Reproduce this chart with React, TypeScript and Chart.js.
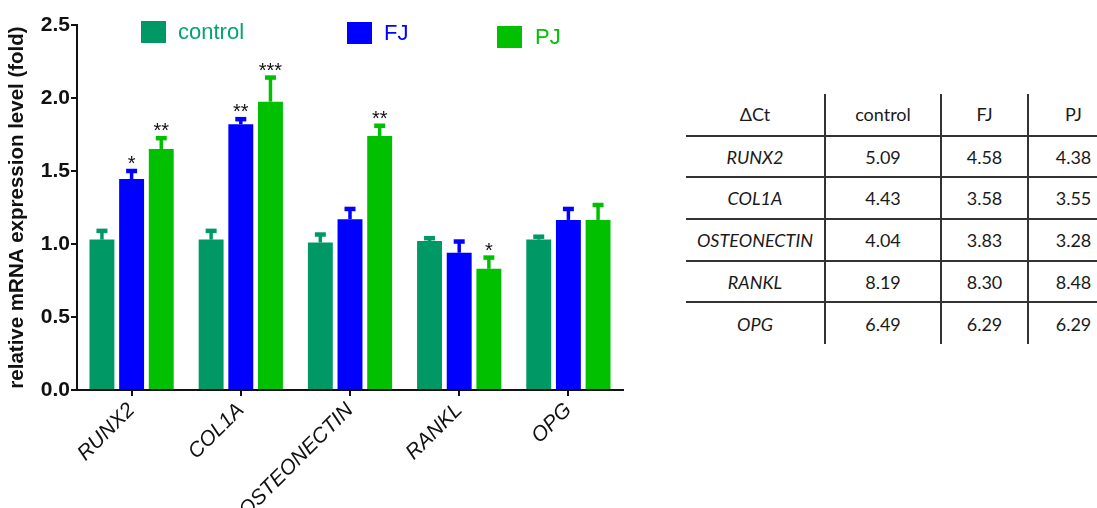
import React, { useEffect, useRef } from "react";
import { Chart, registerables } from "chart.js";

Chart.register(...registerables);

// ---------- data ----------
const genes = ["RUNX2", "COL1A", "OSTEONECTIN", "RANKL", "OPG"];
const seriesNames = ["control", "FJ", "PJ"];
const controlValues = [1.03, 1.03, 1.01, 1.02, 1.03];
const fjValues = [1.445, 1.82, 1.17, 0.94, 1.165];
const pjValues = [1.65, 1.975, 1.74, 0.83, 1.165];
const controlErrTop = [1.09, 1.09, 1.065, 1.04, 1.05];
const fjErrTop = [1.50, 1.855, 1.24, 1.017, 1.24];
const pjErrTop = [1.725, 2.14, 1.81, 0.907, 1.267];
const controlStars = ["", "", "", "", ""];
const fjStars = ["*", "**", "", "", ""];
const pjStars = ["**", "***", "**", "*", ""];
const yTicks = [0, 0.5, 1.0, 1.5, 2.0, 2.5];

const tableHeader = ["\u0394Ct", "control", "FJ", "PJ"];
const tableGenes = ["RUNX2", "COL1A", "OSTEONECTIN", "RANKL", "OPG"];
const tableControl = ["5.09", "4.43", "4.04", "8.19", "6.49"];
const tableFJ = ["4.58", "3.58", "3.83", "8.30", "6.29"];
const tablePJ = ["4.38", "3.55", "3.28", "8.48", "6.29"];

// ---------- styles ----------
const barColors = ["#009966", "#0000ff", "#00c000"];
const legendTextColors = ["#00a66c", "#0000ff", "#00c000"];
const FONT = "'Liberation Sans', Arial, sans-serif";
const legendLayout = [
  { x: 141, y: 21, text: 178, mid: 33 },
  { x: 347, y: 22, text: 384, mid: 34 },
  { x: 497, y: 26, text: 535, mid: 37.5 },
];

const errBars = [controlErrTop, fjErrTop, pjErrTop];
const stars = [controlStars, fjStars, pjStars];

const extrasPlugin = {
  id: "extras",
  afterDatasetsDraw(chart: any) {
    const ctx = chart.ctx;
    const yScale = chart.scales.y;
    chart.data.datasets.forEach((ds: any, i: number) => {
      const meta = chart.getDatasetMeta(i);
      meta.data.forEach((el: any, j: number) => {
        const x = el.x;
        const yTop = el.y;
        const yCap = yScale.getPixelForValue(errBars[i][j]);
        ctx.save();
        ctx.strokeStyle = barColors[i];
        ctx.lineWidth = 3.5;
        ctx.beginPath();
        ctx.moveTo(x, yTop);
        ctx.lineTo(x, yCap);
        ctx.stroke();
        ctx.lineWidth = 4.5;
        ctx.beginPath();
        ctx.moveTo(x - 5.5, yCap);
        ctx.lineTo(x + 5.5, yCap);
        ctx.stroke();
        const s = stars[i][j];
        if (s) {
          ctx.fillStyle = "#111";
          ctx.font = `20px ${FONT}`;
          ctx.textAlign = "center";
          ctx.textBaseline = "alphabetic";
          ctx.fillText(s, x, yCap - 1);
        }
        ctx.restore();
      });
    });
  },
  afterDraw(chart: any) {
    const ctx = chart.ctx;
    chart.data.datasets.forEach((ds: any, i: number) => {
      const L = legendLayout[i];
      ctx.save();
      ctx.fillStyle = barColors[i];
      ctx.fillRect(L.x, L.y, 25, 22);
      ctx.fillStyle = legendTextColors[i];
      ctx.font = `22px ${FONT}`;
      ctx.textAlign = "left";
      ctx.textBaseline = "middle";
      ctx.fillText(ds.label, L.text, L.mid);
      ctx.restore();
    });
  },
};

export default function App() {
  const ref = useRef<HTMLCanvasElement>(null);
  useEffect(() => {
    if (!ref.current) return;
    const chart = new Chart(ref.current, {
      type: "bar",
      data: {
        labels: genes,
        datasets: [controlValues, fjValues, pjValues].map((vals, i) => ({
          label: seriesNames[i],
          data: vals,
          backgroundColor: barColors[i],
          borderWidth: 0,
          categoryPercentage: 0.815,
          barPercentage: 0.84,
        })),
      },
      options: {
        animation: false,
        responsive: false,
        devicePixelRatio: 1,
        layout: { padding: { top: 25, right: 57, left: 0, bottom: 0 } },
        plugins: { legend: { display: false }, tooltip: { enabled: false } },
        scales: {
          x: {
            offset: true,
            grid: {
              offset: false,
              drawOnChartArea: false,
              drawTicks: true,
              tickLength: 6,
              color: "#111",
              lineWidth: 2,
            },
            border: { display: true, color: "#111", width: 2 },
            ticks: {
              autoSkip: false,
              maxRotation: 45,
              minRotation: 45,
              padding: 2,
              color: "#111",
              font: { family: FONT, size: 21, style: "italic" },
            },
            afterFit(scale: any) {
              scale.height = 170;
            },
          },
          y: {
            min: 0,
            max: 2.5,
            afterBuildTicks(scale: any) {
              scale.ticks = yTicks.map((v) => ({ value: v }));
            },
            grid: {
              drawOnChartArea: false,
              drawTicks: true,
              tickLength: 6,
              color: "#111",
              lineWidth: 2,
            },
            border: { display: true, color: "#111", width: 2 },
            ticks: {
              padding: 1,
              color: "#111",
              font: { family: FONT, size: 21, weight: "bold" },
              callback: (v: any) => Number(v).toFixed(1),
            },
            title: {
              display: true,
              text: "relative mRNA expression level (fold)",
              color: "#111",
              font: { family: FONT, size: 20.5, weight: "bold" },
              padding: { top: 5, bottom: 0 },
            },
            afterFit(scale: any) {
              scale.width = 77;
            },
          },
        },
      },
      plugins: [extrasPlugin],
    });
    return () => chart.destroy();
  }, []);

  const colWidths = [139, 116, 87, 90];
  const rowH = 41.7;
  const cellBase: React.CSSProperties = {
    fontFamily: "Lato, 'Open Sans', sans-serif",
    fontSize: 18,
    color: "#1a1a1a",
    textAlign: "center",
    verticalAlign: "middle",
    height: rowH,
    padding: 0,
    boxSizing: "border-box",
  };
  const rows = [tableHeader].concat(
    tableGenes.map((g, i) => [g, tableControl[i], tableFJ[i], tablePJ[i]])
  );

  return (
    <div
      style={{
        position: "fixed",
        left: 0,
        top: 0,
        width: 1097,
        height: 508,
        overflow: "hidden",
        background: "#fff",
      }}
    >
      <canvas
        ref={ref}
        width={680}
        height={560}
        style={{ position: "absolute", left: 0, top: 0 }}
      />
      <table
        style={{
          position: "absolute",
          left: 686,
          top: 94,
          borderCollapse: "collapse",
          tableLayout: "fixed",
          width: colWidths.reduce((a, b) => a + b, 0),
        }}
      >
        <colgroup>
          {colWidths.map((w, i) => (
            <col key={i} style={{ width: w }} />
          ))}
        </colgroup>
        <tbody>
          {rows.map((r, ri) => (
            <tr key={ri}>
              {r.map((c, ci) => (
                <td
                  key={ci}
                  style={{
                    ...cellBase,
                    fontStyle: ri > 0 && ci === 0 ? "italic" : "normal",
                    borderTop: ri > 0 ? "2px solid #333" : "none",
                    borderLeft: ci > 0 ? "2px solid #333" : "none",
                  }}
                >
                  {c}
                </td>
              ))}
            </tr>
          ))}
        </tbody>
      </table>
    </div>
  );
}
